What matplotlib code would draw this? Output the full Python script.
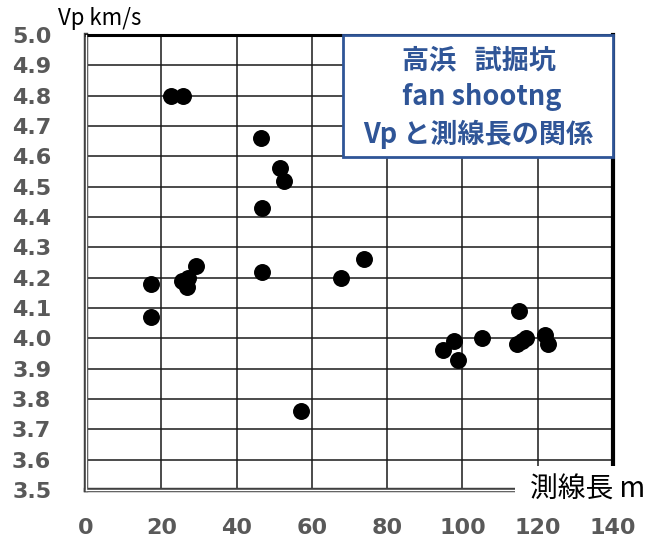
import matplotlib
matplotlib.use("Agg")
import matplotlib.pyplot as plt
from matplotlib.patches import Rectangle

plt.rcParams['font.family'] = ['Noto Sans CJK JP', 'DejaVu Sans']

# 測線長 (m) と Vp (km/s)
length_m = [22.6, 25.7, 46.6, 51.5, 52.6, 46.7, 29.3, 46.7,
            17.4, 17.4, 25.4, 27.0, 26.9, 57.1, 67.7, 73.8,
            115.0, 94.9, 97.7, 98.7, 105.1, 114.4, 115.7, 117.0,
            121.9, 122.8]
vp_kms = [4.80, 4.80, 4.66, 4.56, 4.52, 4.43, 4.24, 4.22,
          4.18, 4.07, 4.19, 4.20, 4.17, 3.76, 4.20, 4.26,
          4.09, 3.96, 3.99, 3.93, 4.00, 3.98, 3.99, 4.00,
          4.01, 3.98]

xticks = [0, 20, 40, 60, 80, 100, 120, 140]
yticks = [3.5, 3.6, 3.7, 3.8, 3.9, 4.0, 4.1, 4.2, 4.3, 4.4, 4.5, 4.6, 4.7, 4.8, 4.9, 5.0]

title_lines = ['高浜   試掘坑', ' fan shootng', 'Vp と測線長の関係']
blue = '#2F5597'
gray = '#595959'

fig = plt.figure(figsize=(6.5, 5.42), dpi=100)
ax = fig.add_axes([86/650, 1-490/542, (613-86)/650, (490-35)/542])

ax.scatter(length_m, vp_kms, s=125, color='black', zorder=3, clip_on=False)

ax.set_xlim(0, 140)
ax.set_ylim(3.5, 5.0)
ax.set_xticks(xticks)
ax.set_yticks(yticks)
ax.set_yticklabels(['%.1f' % v for v in yticks])
ax.grid(True, color='#1a1a1a', linewidth=1.1)
ax.set_axisbelow(True)
ax.tick_params(length=0, labelsize=16, labelcolor=gray)
ax.tick_params(axis='x', pad=20)
ax.tick_params(axis='y', pad=25)
for lab in ax.get_xticklabels() + ax.get_yticklabels():
    lab.set_fontweight('bold')
    lab.set_family('DejaVu Sans')

# spines: double line left/bottom, thick black top/right
for side in ['left', 'bottom']:
    ax.spines[side].set_linewidth(3.2)
    ax.spines[side].set_color('#404040')
ax.plot([0, 0], [3.5, 5.0], color='white', lw=1.0, clip_on=False, zorder=5)
ax.plot([0, 140], [3.5, 3.5], color='white', lw=1.0, clip_on=False, zorder=5)
ax.spines['top'].set_linewidth(2.2)
ax.spines['top'].set_color('black')
ax.spines['right'].set_linewidth(3.0)
ax.spines['right'].set_color('black')

# title box
ax.add_patch(Rectangle((68.3/140, (4.598-3.5)/1.5), 1-68.3/140, 1-(4.598-3.5)/1.5,
                       transform=ax.transAxes, facecolor='white', edgecolor=blue,
                       linewidth=2, zorder=10, clip_on=False))
cx = (343+614)/2/650
for i, t in enumerate(title_lines):
    fig.text(cx, 1-(60+37*i)/542, t, ha='center', va='center', fontsize=19.5,
             fontweight='bold', color=blue, zorder=11)

# axis labels
fig.text(58/650, 1-18/542, 'Vp km/s', ha='left', va='center', fontsize=16)
fig.patches.append(Rectangle((515/650, 1-512/542), 135/650, 46/542,
                             transform=fig.transFigure, facecolor='white',
                             edgecolor='none', zorder=20))
fig.text(530/650, 1-490/542, '測線長 m', ha='left', va='center', fontsize=20,
         zorder=21)

fig.savefig('out.png', dpi=100)
